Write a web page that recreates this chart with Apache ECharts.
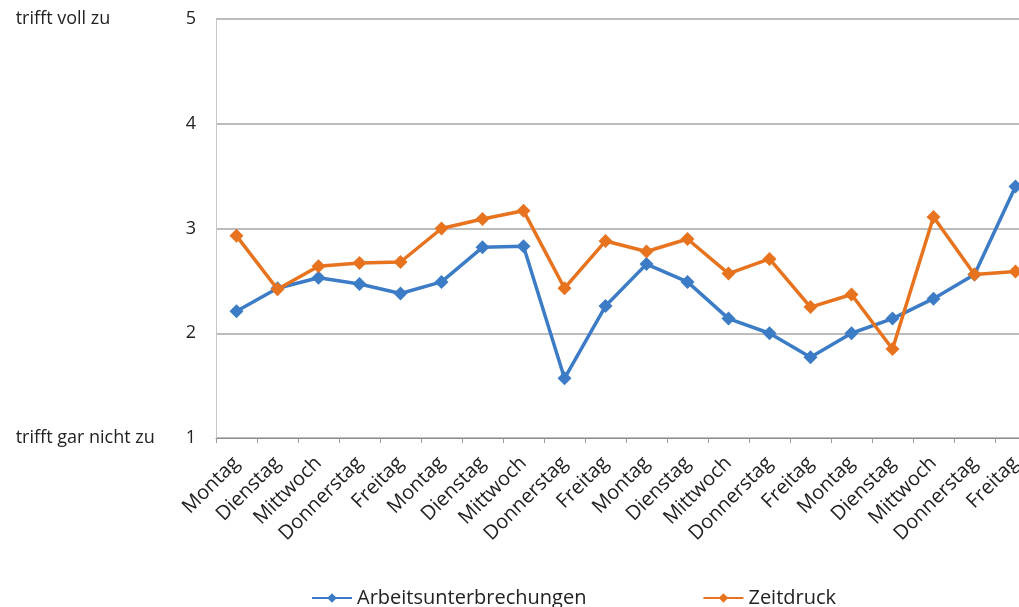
<!DOCTYPE html>
<html>
<head>
<meta charset="utf-8">
<script src="https://cdn.jsdelivr.net/npm/echarts@6/dist/echarts.min.js"></script>
<style>
  html, body { margin: 0; padding: 0; background: #fff; overflow: hidden; }
  #chart { width: 1036px; height: 607px; }
</style>
</head>
<body>
<div id="chart"></div>
<script>
// Wochentage über vier Wochen
const categories = [
  'Montag', 'Dienstag', 'Mittwoch', 'Donnerstag', 'Freitag',
  'Montag', 'Dienstag', 'Mittwoch', 'Donnerstag', 'Freitag',
  'Montag', 'Dienstag', 'Mittwoch', 'Donnerstag', 'Freitag',
  'Montag', 'Dienstag', 'Mittwoch', 'Donnerstag', 'Freitag'
];

const arbeitsunterbrechungen = [
  2.21, 2.43, 2.53, 2.47, 2.38, 2.49, 2.82, 2.83, 1.57, 2.26,
  2.66, 2.49, 2.14, 2.00, 1.77, 2.00, 2.14, 2.33, 2.56, 3.40
];

const zeitdruck = [
  2.93, 2.42, 2.64, 2.67, 2.68, 3.00, 3.09, 3.17, 2.43, 2.88,
  2.78, 2.90, 2.57, 2.71, 2.25, 2.37, 1.85, 3.11, 2.56, 2.59
];

const yTicks = [1, 2, 3, 4, 5];
const scaleText = { 5: 'trifft voll zu', 1: 'trifft gar nicht zu' };

const blue = '#3c7cc6';
const orange = '#e8731f';

const chart = echarts.init(document.getElementById('chart'));

chart.setOption({
  animation: false,
  textStyle: { fontFamily: 'Open Sans, Liberation Sans, sans-serif' },
  grid: { left: 216, top: 19, bottom: 169, right: 0 },
  legend: {
    top: 583,
    left: 306,
    itemGap: 116,
    itemWidth: 40,
    itemHeight: 12,
    textStyle: { fontSize: 20, color: '#222' },
    data: ['Arbeitsunterbrechungen', 'Zeitdruck']
  },
  xAxis: {
    type: 'category',
    data: categories,
    boundaryGap: true,
    axisLine: { lineStyle: { color: '#8c8c8c', width: 1 } },
    axisTick: { show: true, length: 5, lineStyle: { color: '#9a9a9a' } },
    axisLabel: {
      interval: 0,
      rotate: 45,
      margin: 22,
      fontSize: 20,
      color: '#222'
    }
  },
  yAxis: {
    type: 'value',
    min: yTicks[0],
    max: yTicks[yTicks.length - 1],
    interval: 1,
    axisLine: { show: true, lineStyle: { color: '#c8c8c8' } },
    axisTick: { show: false },
    splitLine: { lineStyle: { color: '#a6a6a6', width: 1.5 } },
    axisLabel: {
      margin: 20,
      formatter: function (v) {
        const side = scaleText[v] || '';
        return '{side|' + side + '}{num|' + v + '}';
      },
      rich: {
        side: { width: 170, align: 'left', fontSize: 18, color: '#222' },
        num: { fontSize: 18, color: '#222' }
      }
    }
  },
  series: [
    {
      name: 'Arbeitsunterbrechungen',
      type: 'line',
      data: arbeitsunterbrechungen,
      symbol: 'diamond',
      symbolSize: 14,
      lineStyle: { width: 3.5, color: blue },
      itemStyle: { color: blue },
      z: 2
    },
    {
      name: 'Zeitdruck',
      type: 'line',
      data: zeitdruck,
      symbol: 'diamond',
      symbolSize: 14,
      lineStyle: { width: 3.5, color: orange },
      itemStyle: { color: orange },
      z: 3
    }
  ]
});
</script>
</body>
</html>
